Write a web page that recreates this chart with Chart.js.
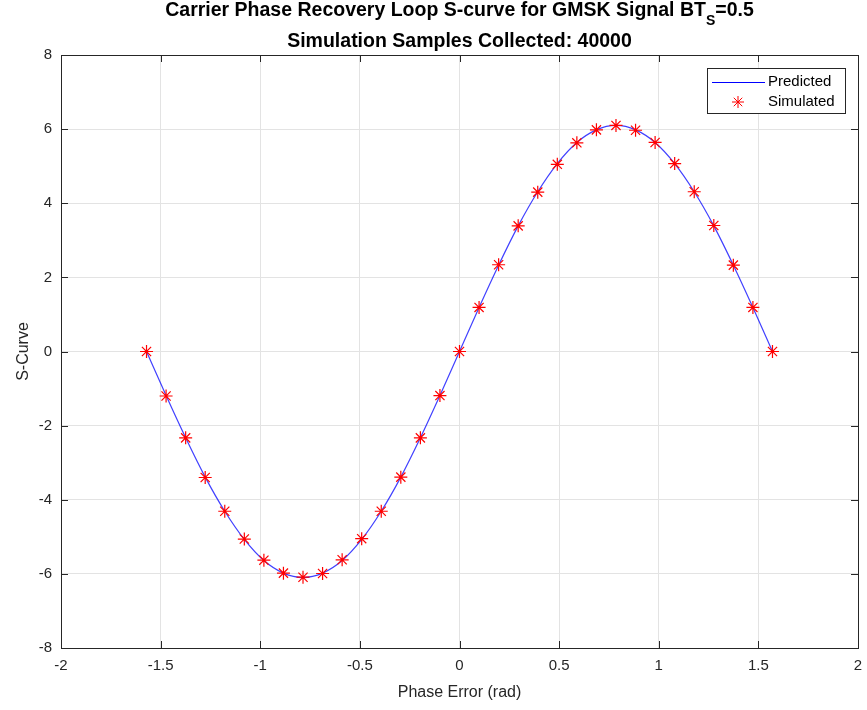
<!DOCTYPE html>
<html>
<head>
<meta charset="utf-8">
<script src="https://cdn.jsdelivr.net/npm/chart.js@4/dist/chart.umd.min.js"></script>
<style>
  html, body { margin: 0; padding: 0; background: #fff; }
  #wrap { width: 867px; height: 710px; }
</style>
</head>
<body>
<div id="wrap"><canvas id="chart" width="867" height="710"></canvas></div>
<script>
// phase error samples (rad), -pi/2 .. pi/2 in steps of pi/32
const phaseError = [
  -1.5708, -1.4726, -1.3744, -1.2763, -1.1781, -1.0799, -0.9817, -0.8836, -0.7854,
  -0.6872, -0.5890, -0.4909, -0.3927, -0.2945, -0.1963, -0.0982, 0,
  0.0982, 0.1963, 0.2945, 0.3927, 0.4909, 0.5890, 0.6872, 0.7854,
  0.8836, 0.9817, 1.0799, 1.1781, 1.2763, 1.3744, 1.4726, 1.5708,
];
const predicted = [
  0, -1.19, -2.33, -3.39, -4.31, -5.07, -5.64, -5.98, -6.10,
  -5.98, -5.64, -5.07, -4.31, -3.39, -2.33, -1.19, 0,
  1.19, 2.33, 3.39, 4.31, 5.07, 5.64, 5.98, 6.10,
  5.98, 5.64, 5.07, 4.31, 3.39, 2.33, 1.19, 0,
];
const simulated = [
  0, -1.20, -2.33, -3.40, -4.31, -5.06, -5.63, -5.98, -6.09,
  -5.99, -5.62, -5.05, -4.31, -3.39, -2.33, -1.19, 0,
  1.19, 2.34, 3.39, 4.30, 5.05, 5.63, 5.98, 6.10,
  5.97, 5.64, 5.07, 4.31, 3.40, 2.33, 1.19, 0,
];
const xTicks = [-2, -1.5, -1, -0.5, 0, 0.5, 1, 1.5, 2];
const yTicks = [-8, -6, -4, -2, 0, 2, 4, 6, 8];

const axisColor = "#262626";
const gridColor = "#e3e3e3";
const font = "'Liberation Sans', Arial, sans-serif";

const toPoints = (xs, ys) => xs.map((x, i) => ({ x, y: ys[i] }));

// MATLAB-like frame: box, inward ticks, two-line title with subscript, inner legend
const matlabFrame = {
  id: "matlabFrame",
  afterDraw(chart) {
    const { ctx, chartArea: a, scales } = chart;
    ctx.save();
    ctx.strokeStyle = axisColor;
    ctx.lineWidth = 1;
    ctx.strokeRect(Math.round(a.left) + 0.5, Math.round(a.top) + 0.5,
      Math.round(a.right - a.left), Math.round(a.bottom - a.top));

    ctx.beginPath();
    for (const v of xTicks) {
      const px = Math.round(scales.x.getPixelForValue(v)) + 0.5;
      ctx.moveTo(px, a.bottom); ctx.lineTo(px, a.bottom - 7);
      ctx.moveTo(px, a.top); ctx.lineTo(px, a.top + 7);
    }
    for (const v of yTicks) {
      const py = Math.round(scales.y.getPixelForValue(v)) + 0.5;
      ctx.moveTo(a.left, py); ctx.lineTo(a.left + 7, py);
      ctx.moveTo(a.right, py); ctx.lineTo(a.right - 7, py);
    }
    ctx.stroke();

    // title
    ctx.fillStyle = "#000";
    ctx.textBaseline = "alphabetic";
    const cx = (a.left + a.right) / 2;
    const main = "Carrier Phase Recovery Loop S-curve for GMSK Signal BT";
    const tail = "=0.5";
    ctx.font = `bold 19.5px ${font}`;
    const wMain = ctx.measureText(main).width;
    const wTail = ctx.measureText(tail).width;
    ctx.font = `bold 14px ${font}`;
    const wSub = ctx.measureText("S").width;
    const x0 = cx - (wMain + wSub + wTail) / 2;
    ctx.textAlign = "left";
    ctx.font = `bold 19.5px ${font}`;
    ctx.fillText(main, x0, 16);
    ctx.font = `bold 14px ${font}`;
    ctx.fillText("S", x0 + wMain, 25);
    ctx.font = `bold 19.5px ${font}`;
    ctx.fillText(tail, x0 + wMain + wSub, 16);
    ctx.textAlign = "center";
    ctx.fillText("Simulation Samples Collected: 40000", cx, 47);

    // legend
    const lx = 707, ly = 68, lw = 138, lh = 45;
    ctx.fillStyle = "#fff";
    ctx.fillRect(lx, ly, lw, lh);
    ctx.strokeStyle = axisColor;
    ctx.strokeRect(lx + 0.5, ly + 0.5, lw, lh);
    ctx.strokeStyle = "#0000ff";
    ctx.beginPath();
    ctx.moveTo(lx + 5, ly + 14.5); ctx.lineTo(lx + 58, ly + 14.5);
    ctx.stroke();
    ctx.strokeStyle = "#ff0000";
    ctx.beginPath();
    const sx = lx + 31, sy = ly + 34, r = 6;
    ctx.moveTo(sx - r, sy); ctx.lineTo(sx + r, sy);
    ctx.moveTo(sx, sy - r); ctx.lineTo(sx, sy + r);
    const d = r * 0.707;
    ctx.moveTo(sx - d, sy - d); ctx.lineTo(sx + d, sy + d);
    ctx.moveTo(sx - d, sy + d); ctx.lineTo(sx + d, sy - d);
    ctx.stroke();
    ctx.fillStyle = "#000";
    ctx.textAlign = "left";
    ctx.textBaseline = "middle";
    ctx.font = `15px ${font}`;
    ctx.fillText(chart.data.datasets[0].label, lx + 61, ly + 14);
    ctx.fillText(chart.data.datasets[1].label, lx + 61, ly + 34);
    ctx.restore();
  },
};

new Chart(document.getElementById("chart"), {
  type: "scatter",
  data: {
    datasets: [
      {
        label: "Predicted",
        data: toPoints(phaseError, predicted),
        showLine: true,
        borderColor: "rgba(0, 0, 255, 0.75)",
        borderWidth: 1.2,
        pointRadius: 0,
        cubicInterpolationMode: "monotone",
        order: 2,
      },
      {
        label: "Simulated",
        data: toPoints(phaseError, simulated),
        showLine: false,
        pointStyle: "star",
        pointRadius: 6.5,
        borderColor: "#ff0000",
        backgroundColor: "#ff0000",
        pointBorderWidth: 1.2,
        order: 1,
      },
    ],
  },
  options: {
    responsive: false,
    animation: false,
    layout: { padding: { top: 55, right: 9, left: 0, bottom: 0 } },
    plugins: {
      legend: { display: false },
      title: { display: false },
      tooltip: { enabled: false },
    },
    scales: {
      x: {
        type: "linear",
        min: -2,
        max: 2,
        afterBuildTicks: (s) => { s.ticks = xTicks.map((value) => ({ value })); },
        afterFit: (s) => { s.height = 62; s.paddingLeft = 0; s.paddingRight = 0; },
        grid: { color: gridColor, drawTicks: false },
        border: { display: false },
        ticks: {
          color: axisColor,
          font: { family: font, size: 15 },
          padding: 9,
          callback: (v) => String(v),
        },
        title: {
          display: true,
          text: "Phase Error (rad)",
          color: axisColor,
          font: { family: font, size: 16 },
          padding: { top: 0, bottom: 8 },
        },
      },
      y: {
        type: "linear",
        min: -8,
        max: 8,
        afterBuildTicks: (s) => { s.ticks = yTicks.map((value) => ({ value })); },
        afterFit: (s) => { s.width = 61; s.paddingTop = 0; s.paddingBottom = 0; },
        grid: { color: gridColor, drawTicks: false },
        border: { display: false },
        ticks: {
          color: axisColor,
          font: { family: font, size: 15 },
          padding: 9,
          callback: (v) => String(v),
        },
        title: {
          display: true,
          text: "S-Curve",
          color: axisColor,
          font: { family: font, size: 16 },
          padding: { top: 14, bottom: 0 },
        },
      },
    },
  },
  plugins: [matlabFrame],
});
</script>
</body>
</html>
